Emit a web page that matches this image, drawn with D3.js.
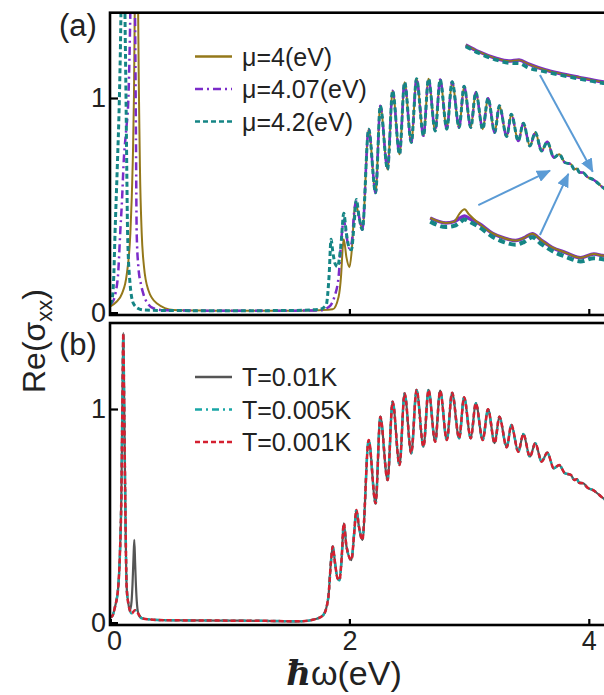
<!DOCTYPE html>
<html><head><meta charset="utf-8">
<script src="https://cdn.jsdelivr.net/npm/d3@7"></script>
<style>body{margin:0;background:#fff}svg{display:block}</style>
</head><body>
<svg id="c" width="604" height="695"></svg>
<script>
// ---------- DATA ----------
// Panel (a): mu = 4 eV
const mu4X = [0,0.05,0.1,0.14,0.17,0.19,0.2,0.21,0.22,0.232,0.24,0.245,0.25,0.265,0.284,0.32,0.39,0.53,0.8,1.1,1.4,1.6,1.75,1.86,1.91,1.93,1.945,1.953,1.975,2.0,2.02,2.04,2.05,2.08];
const mu4Y = [0.03,0.05,0.09,0.18,0.37,0.7,1.0,1.6,2.5,1.6,1.1,0.88,0.68,0.37,0.215,0.107,0.045,0.014,0.011,0.01,0.01,0.011,0.013,0.017,0.076,0.17,0.31,0.343,0.26,0.213,0.293,0.464,0.51,0.45];
// Panel (a): mu = 4.07 eV
const mu407X = [0,0.02,0.045,0.07,0.085,0.1,0.115,0.135,0.153,0.165,0.175,0.19,0.205,0.212,0.217,0.223,0.237,0.26,0.278,0.32,0.362,0.45,0.7,1.0,1.3,1.55,1.75,1.833,1.875,1.91,1.93,1.953,1.975,2.0,2.02,2.04,2.055,2.08];
const mu407Y = [0.04,0.05,0.09,0.2,0.37,0.52,0.71,0.85,0.99,1.25,1.6,2.5,1.6,1.2,0.8,0.37,0.215,0.13,0.09,0.04,0.022,0.013,0.011,0.01,0.01,0.011,0.012,0.03,0.076,0.17,0.324,0.433,0.36,0.3,0.33,0.47,0.52,0.45];
// Panel (a): mu = 4.2 eV
const mu42X = [0,0.014,0.03,0.042,0.061,0.078,0.089,0.1,0.11,0.118,0.125,0.134,0.14,0.147,0.167,0.195,0.24,0.28,0.4,0.7,1.0,1.3,1.55,1.75,1.806,1.83,1.847,1.86,1.88,1.9,1.93,1.953,1.975,2.0,2.017,2.04,2.058,2.08];
const mu42Y = [0.04,0.053,0.15,0.37,0.68,0.99,1.3,1.8,2.5,1.8,1.4,0.99,0.68,0.37,0.14,0.045,0.02,0.014,0.012,0.011,0.011,0.011,0.012,0.017,0.037,0.17,0.343,0.29,0.23,0.215,0.32,0.464,0.37,0.3,0.294,0.42,0.528,0.45];
// Shared interband oscillations (all curves)
const tailX = [2.108,2.161,2.219,2.258,2.319,2.361,2.419,2.461,2.517,2.561,2.619,2.661,2.717,2.758,2.814,2.858,2.917,2.958,3.014,3.056,3.114,3.158,3.214,3.253,3.314,3.353,3.411,3.453,3.508,3.553,3.606,3.653,3.708,3.753,3.8,3.85,3.88,3.9,3.92,3.953,3.99,4.036,4.12,4.2];
const tailY = [0.388,0.855,0.559,0.964,0.668,1.034,0.738,1.073,0.793,1.089,0.824,1.089,0.847,1.086,0.855,1.076,0.863,1.055,0.863,1.027,0.855,0.999,0.84,0.964,0.821,0.925,0.8,0.883,0.777,0.84,0.754,0.796,0.723,0.738,0.7,0.692,0.668,0.672,0.655,0.653,0.632,0.621,0.583,0.55];
// Panel (b): Drude part, T = 0.01 K
const t01X = [0,0.014,0.042,0.069,0.083,0.095,0.102,0.107,0.111,0.115,0.12,0.127,0.139,0.153,0.167,0.18,0.188,0.196,0.203,0.21,0.215,0.223,0.237,0.28,0.45];
const t01Y = [0.03,0.03,0.076,0.17,0.326,0.6,0.95,1.2,1.355,1.2,0.95,0.6,0.17,0.092,0.06,0.1,0.18,0.3,0.388,0.28,0.2,0.107,0.045,0.02,0.013];
// Panel (b): Drude part, T = 0.005 K and 0.001 K
const tLowX = [0,0.014,0.042,0.069,0.083,0.095,0.102,0.107,0.111,0.115,0.12,0.127,0.139,0.153,0.181,0.209,0.265,0.45];
const tLowY = [0.03,0.03,0.076,0.17,0.326,0.6,0.95,1.2,1.355,1.2,0.95,0.6,0.17,0.092,0.045,0.06,0.022,0.013];
// Panel (b): gap and onset
const onsetBX = [0.7,1.0,1.3,1.587,1.727,1.782,1.824,1.845,1.861,1.88,1.9,1.917,1.935,1.953,1.975,2.017,2.04,2.058,2.08];
const onsetBY = [0.012,0.011,0.01,0.008,0.02,0.037,0.12,0.28,0.357,0.28,0.21,0.2,0.3,0.466,0.36,0.294,0.42,0.528,0.45];
// Insets in panel (a), in axis units
const insTopX = [2.972,3.083,3.222,3.333,3.417,3.5,3.639,3.75,3.917,4.11,4.2];
const insTopPurple = [1.247,1.215,1.185,1.172,1.177,1.157,1.13,1.115,1.096,1.076,1.07];
const insTopTeal = [1.24,1.208,1.178,1.163,1.161,1.14,1.122,1.108,1.09,1.07,1.064];
const insLowX = [2.675,2.806,2.875,2.92,2.962,3.0,3.083,3.194,3.29,3.389,3.458,3.528,3.6,3.694,3.806,3.931,4.042,4.117,4.2];
const insLowPurple = [0.442,0.419,0.425,0.44,0.451,0.44,0.416,0.371,0.349,0.337,0.349,0.369,0.34,0.305,0.281,0.257,0.274,0.267,0.262];
const insLowOlive = [0.442,0.419,0.425,0.462,0.482,0.458,0.416,0.371,0.349,0.337,0.349,0.369,0.34,0.305,0.281,0.257,0.274,0.267,0.262];
const insLowTeal = [0.425,0.4,0.405,0.42,0.435,0.425,0.4,0.355,0.33,0.318,0.33,0.352,0.322,0.288,0.262,0.24,0.255,0.25,0.245];
// Arrows (axis units of panel a): [x1,y1,x2,y2]
const arrows = [[3.592,1.107,4.033,0.657],[3.077,0.502,3.676,0.662],[3.592,0.363,3.829,0.647]];
const legendA = ["μ=4(eV)","μ=4.07(eV)","μ=4.2(eV)"];
const legendB = ["T=0.01K","T=0.005K","T=0.001K"];
const yTicks = [0,1];
const xTicks = [0,2,4];

// ---------- DRAW ----------
const svg = d3.select("#c");
const X0 = 110, PX = 119.7;
const x = d3.scaleLinear([0,4.2],[X0, X0+4.2*PX]);
const ya = d3.scaleLinear([0,1.4],[313, 12]);
const yb = d3.scaleLinear([0,1.4],[623, 623-1.4*214]);
const zip = (xs,ys)=>xs.map((v,i)=>[v,ys[i]]);
const FONT = "'Liberation Sans', Arial, sans-serif";

const defs = svg.append("defs");
defs.append("clipPath").attr("id","clipA").append("rect").attr("x",X0).attr("y",12.7).attr("width",520).attr("height",302);
defs.append("clipPath").attr("id","clipB").append("rect").attr("x",X0).attr("y",323).attr("width",520).attr("height",302);
defs.append("marker").attr("id","ah").attr("markerUnits","userSpaceOnUse")
  .attr("markerWidth",14).attr("markerHeight",12).attr("refX",13).attr("refY",6).attr("orient","auto")
  .append("path").attr("d","M0,0 L14,6 L0,12 Z").attr("fill","#5b9bd5");

const C = {olive:"#94781a", purple:"#7b2cc9", teal:"#158585", gray:"#555555", cyan:"#1aa6a6", red:"#d42030"};
const styleA = [
  {c:C.olive, w:2, d:null},
  {c:C.purple, w:2.5, d:"8,4,2,4"},
  {c:C.teal, w:3, d:"5,3"}
];
const styleB = [
  {c:C.gray, w:2.2, d:null},
  {c:C.cyan, w:2.5, d:"7,4,2,4"},
  {c:C.red, w:2.5, d:"5,3"}
];

function drawPanel(y, clip, series, styles){
  const g = svg.append("g").attr("clip-path",`url(#${clip})`);
  const line = d3.line().x(d=>x(d[0])).y(d=>y(d[1])).curve(d3.curveMonotoneX);
  series.forEach((s,i)=>{
    const st = styles[i];
    g.append("path").attr("d",line(s)).attr("fill","none").attr("stroke",st.c)
      .attr("stroke-width",st.w).attr("stroke-dasharray",st.d).attr("stroke-linejoin","round");
  });
  return g;
}

const seriesA = [
  zip(mu4X.concat(tailX), mu4Y.concat(tailY)),
  zip(mu407X.concat(tailX), mu407Y.concat(tailY)),
  zip(mu42X.concat(tailX), mu42Y.concat(tailY))
];
const gA = drawPanel(ya,"clipA",seriesA,styleA);

// insets
const insLine = d3.line().x(d=>x(d[0])).y(d=>ya(d[1])).curve(d3.curveMonotoneX);
[[insTopX,insTopPurple,C.purple,3.5,null],[insTopX,insTopPurple,C.olive,1.5,null],[insTopX,insTopTeal,C.teal,3.5,"6,4"],
 [insLowX,insLowPurple,C.purple,3.5,null],[insLowX,insLowOlive,C.olive,2,null],[insLowX,insLowTeal,C.teal,4,"7,4"]]
 .forEach(([xs,ys,c,w,d])=>{
  gA.append("path").attr("d",insLine(zip(xs,ys))).attr("fill","none").attr("stroke",c)
    .attr("stroke-width",w).attr("stroke-dasharray",d).attr("stroke-linejoin","round");
 });
arrows.forEach(a=>{
  gA.append("line").attr("x1",x(a[0])).attr("y1",ya(a[1])).attr("x2",x(a[2])).attr("y2",ya(a[3]))
    .attr("stroke","#5b9bd5").attr("stroke-width",2).attr("marker-end","url(#ah)");
});

const seriesB = [
  zip(t01X.concat(onsetBX, tailX), t01Y.concat(onsetBY, tailY)),
  zip(tLowX.concat(onsetBX, tailX), tLowY.concat(onsetBY, tailY)),
  zip(tLowX.concat(onsetBX, tailX), tLowY.concat(onsetBY, tailY))
];
drawPanel(yb,"clipB",seriesB,styleB);

// frames
svg.append("rect").attr("x",X0).attr("y",12.7).attr("width",540).attr("height",302.3)
  .attr("fill","none").attr("stroke","#000").attr("stroke-width",2.6);
svg.append("rect").attr("x",X0).attr("y",323).attr("width",540).attr("height",302)
  .attr("fill","none").attr("stroke","#000").attr("stroke-width",2.6);

// axes
function styleAxis(g){
  g.select(".domain").remove();
  g.selectAll(".tick line").attr("stroke","#000").attr("stroke-width",2.2);
  g.selectAll("text").attr("font-family",FONT).attr("font-size",27).attr("fill","#222");
}
svg.append("g").attr("transform",`translate(${X0},0)`)
  .call(d3.axisLeft(ya).tickValues(yTicks).tickSize(-8).tickPadding(4).tickFormat(d3.format("d"))).call(styleAxis);
svg.append("g").attr("transform",`translate(${X0},0)`)
  .call(d3.axisLeft(yb).tickValues(yTicks).tickSize(-8).tickPadding(4).tickFormat(d3.format("d"))).call(styleAxis);
svg.append("g").attr("transform","translate(0,315)")
  .call(d3.axisBottom(x).tickValues(xTicks.filter(v=>v>0)).tickSize(-6).tickFormat("")).call(styleAxis);
const xb = svg.append("g").attr("transform","translate(0,625)")
  .call(d3.axisBottom(x).tickValues(xTicks).tickSize(-6).tickPadding(6).tickFormat(d3.format("d"))).call(styleAxis);
xb.selectAll(".tick").filter(d=>d===0).select("text").attr("dx",4);
svg.selectAll(".tick").filter(d=>d===0).select("line").attr("stroke-width",3);

// panel labels
svg.append("text").attr("x",59).attr("y",36).attr("font-family",FONT).attr("font-size",31).attr("fill","#222").text("(a)");
svg.append("text").attr("x",59).attr("y",355).attr("font-family",FONT).attr("font-size",31).attr("fill","#222").text("(b)");

// legends
function legend(labels, styles, y0){
  labels.forEach((t,i)=>{
    const yy = y0 + i*32.5;
    const st = styles[i];
    svg.append("line").attr("x1",195).attr("x2",232).attr("y1",yy).attr("y2",yy)
      .attr("stroke",st.c).attr("stroke-width",2.5).attr("stroke-dasharray",st.d);
    svg.append("text").attr("x",242).attr("y",yy+9).attr("font-family",FONT).attr("font-size",25)
      .attr("fill","#222").text(t);
  });
}
legend(legendA, styleA, 56.5);
legend(legendB, styleB, 377);

// axis titles
const yl = svg.append("text").attr("transform","translate(45,341) rotate(-90)").attr("text-anchor","middle")
  .attr("font-family",FONT).attr("font-size",32).attr("fill","#222");
yl.append("tspan").text("Re(σ");
yl.append("tspan").attr("font-size",22).attr("dy",7).text("xx");
yl.append("tspan").attr("dy",-7).text(")");
const xl = svg.append("text").attr("x",344).attr("y",685).attr("text-anchor","middle")
  .attr("font-family",FONT).attr("font-size",34).attr("fill","#222");
xl.append("tspan").attr("font-family","'DejaVu Serif', serif").attr("font-style","italic").attr("font-weight","bold").text("ħ");
xl.append("tspan").text("ω(eV)");
</script></body></html>
